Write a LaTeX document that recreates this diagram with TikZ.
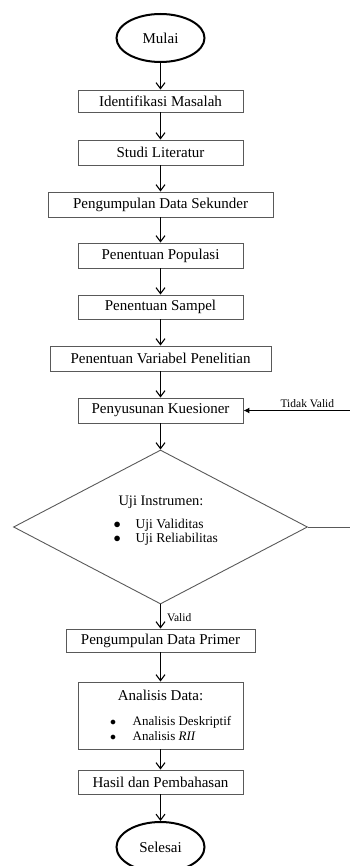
\documentclass[tikz,border=0pt]{standalone}
\usepackage{fontspec}
\setmainfont{Liberation Serif}
\usepackage{tikz}
\usetikzlibrary{arrows.meta, positioning, shapes.geometric}
\definecolor{boxGray}{gray}{0.35}
\newcommand{\titik}{\makebox[5pt][c]{$\bullet$}}
\tikzset{
  proses/.style={draw=boxGray, line width=0.9pt, minimum width=165pt, minimum height=25pt, inner sep=0pt, font=\fontsize{15}{18}\selectfont},
  terminal/.style={ellipse, draw, line width=2pt, minimum width=88pt, minimum height=48pt, inner sep=0pt, font=\fontsize{15}{18}\selectfont},
  alur/.style={->, line width=1.1pt},
  keterangan/.style={font=\fontsize{11.5}{13}\selectfont, inner sep=0pt},
  butir/.style={align=left, inner sep=0pt, anchor=west}
}

\begin{document}
\begin{tikzpicture}[x=1pt, y=-1pt, >={Straight Barb[length=6pt, width=9pt]}]
    \useasboundingbox (0,0) rectangle (350,866);

    \node[terminal] (mulai) at (160.5,38) {Mulai};
    \node[proses, minimum height=22pt] (identifikasi) at (160.5,101) {Identifikasi Masalah};
    \node[proses] (studi) at (160.5,152.5) {Studi Literatur};
    \node[proses, minimum width=225pt] (sekunder) at (160.5,204.5) {Pengumpulan Data Sekunder};
    \node[proses] (populasi) at (160.5,255.5) {Penentuan Populasi};
    \node[proses, minimum height=24pt] (sampel) at (160.5,307) {Penentuan Sampel};
    \node[proses, minimum width=221pt] (variabel) at (160.5,358.5) {Penentuan Variabel Penelitian};
    \node[proses] (kuesioner) at (160.5,410.5) {Penyusunan Kuesioner};

    % decision
    \node[diamond, draw=boxGray, line width=0.9pt, minimum width=294pt, minimum height=154pt, inner sep=0pt] (uji) at (160.5,527) {};
    \node[inner sep=0pt, font=\fontsize{14.5}{17}\selectfont] (ujijudul) at (161,502) {Uji Instrumen:};
    \node[butir, font=\fontsize{13.5}{14}\selectfont] (ujibutir) at (114.5,532) {\titik\hspace{16pt}Uji Validitas\\ \titik\hspace{16pt}Uji Reliabilitas};

    \node[proses, minimum width=189pt, minimum height=23pt] (primer) at (160.5,640.5) {Pengumpulan Data Primer};
    \node[proses, minimum height=67pt] (analisis) at (160.5,715.5) {};
    \node[inner sep=0pt, font=\fontsize{15}{18}\selectfont] (analisisjudul) at (160.5,695) {Analisis Data:};
    \node[butir, font=\fontsize{13}{15}\selectfont] (analisisbutir) at (110.5,728.5) {\titik\hspace{17pt}Analisis Deskriptif\\ \titik\hspace{17pt}Analisis \textit{RII}};
    \node[proses, minimum height=24pt] (hasil) at (160.5,782) {Hasil dan Pembahasan};
    \node[terminal, minimum height=50pt] (selesai) at (160.5,847) {Selesai};

    \coordinate (tvkanan) at (350,410.5); % loop back
    \coordinate (ujikanan) at (350,527);

    % Path
    \draw[alur] (mulai.south) -- (identifikasi.north);
    \draw[alur] (identifikasi) -- (studi);
    \draw[alur] (studi) -- (sekunder);
    \draw[alur] (sekunder) -- (populasi);
    \draw[alur] (populasi) -- (sampel);
    \draw[alur] (sampel) -- (variabel);
    \draw[alur] (variabel) -- (kuesioner);
    \draw[alur] (kuesioner.south) -- (uji.north);
    \draw[alur] (uji.south) -- node[keterangan, right=6pt, pos=0.56] {Valid} (primer.north);
    \draw[alur] (primer) -- (analisis);
    \draw[alur] (analisis) -- (hasil);
    \draw[alur] (hasil.south) -- (selesai.north);
    \draw[line width=0.9pt, boxGray] (uji.east) -- (ujikanan);
    \draw[-{Latex[length=6pt, width=6pt]}, line width=1.1pt] (tvkanan) -- node[keterangan, above=2pt, pos=0.4] {Tidak Valid} (kuesioner.east);
\end{tikzpicture}
\end{document}
